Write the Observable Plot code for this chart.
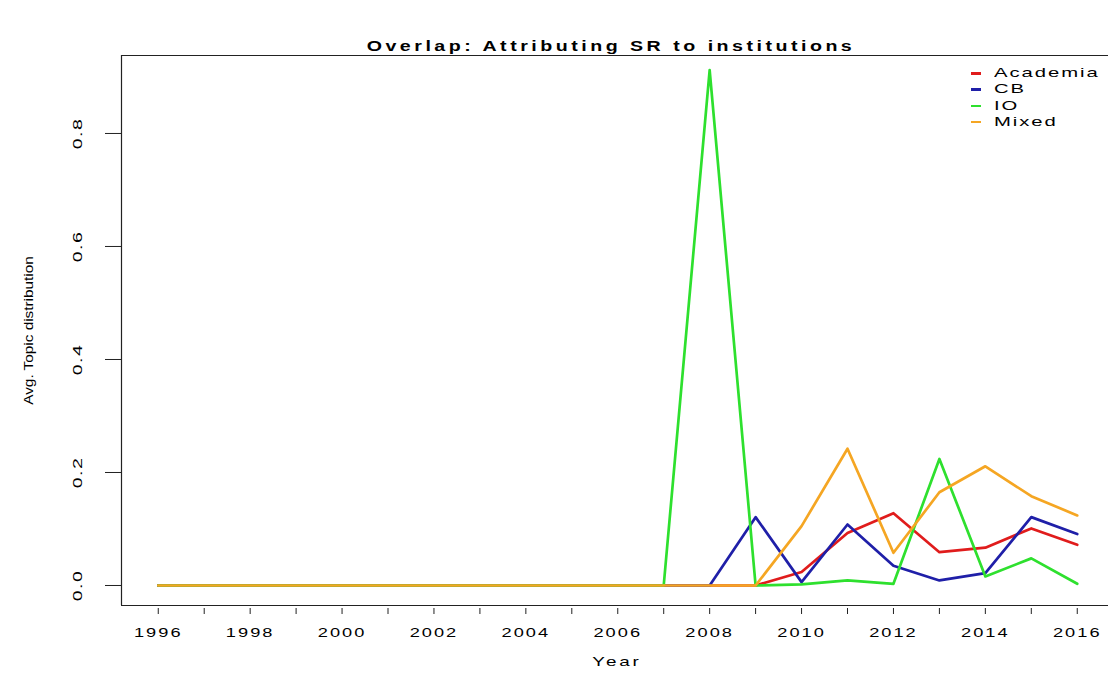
<!DOCTYPE html>
<html><head><meta charset="utf-8">
<script src="https://cdn.jsdelivr.net/npm/d3@7"></script>
<script src="https://cdn.jsdelivr.net/npm/@observablehq/plot@0.6"></script>
<style>
body{margin:0;background:#fff;font-family:"Liberation Sans",Arial,sans-serif;}
#wrap{position:relative;width:1108px;height:673px;overflow:hidden;background:#fff;}
#title{position:absolute;left:611px;top:38px;transform:translate(-50%,0) scaleX(1.4);font-weight:bold;font-size:14px;letter-spacing:2.5px;white-space:nowrap;line-height:16px;color:#000;}
#chart{position:absolute;left:0;top:54px;}
#legend{position:absolute;left:962px;top:65px;font-size:13.5px;color:#000;}
.row{position:relative;height:16.3px;line-height:16.3px;width:146px;}
.sw{position:absolute;left:9px;top:7px;width:10px;height:2.5px;}
.lab{position:absolute;left:32px;top:0;transform-origin:0 50%;transform:scaleX(1.5);letter-spacing:1.3px;white-space:nowrap;}
</style></head>
<body>
<div id="wrap">
  <div id="title">Overlap: Attributing SR to institutions</div>
  <div id="chart"></div>
  <div id="legend"></div>
</div>
<script>
const years = [1996,1997,1998,1999,2000,2001,2002,2003,2004,2005,2006,2007,2008,2009,2010,2011,2012,2013,2014,2015,2016];
const labelYears = [1996,1998,2000,2002,2004,2006,2008,2010,2012,2014,2016];
const yTicks = [0,0.2,0.4,0.6,0.8];
const seriesNames = ["Academia","CB","IO","Mixed"];
const seriesColors = ["#e01c1c","#1f1fa8","#2ee02e","#f5a623"];
const academia = [0,0,0,0,0,0,0,0,0,0,0,0,0,0,0.024,0.093,0.128,0.059,0.067,0.101,0.072];
const cb       = [0,0,0,0,0,0,0,0,0,0,0,0,0,0.121,0.006,0.108,0.035,0.009,0.022,0.121,0.091];
const io       = [0,0,0,0,0,0,0,0,0,0,0,0,0.912,0,0.002,0.009,0.003,0.224,0.016,0.048,0.003];
const mixed    = [0,0,0,0,0,0,0,0,0,0,0,0,0,0,0.105,0.242,0.058,0.165,0.211,0.158,0.124];

const seriesValues = [academia, cb, io, mixed];
const data = [];
seriesNames.forEach((name, k) => years.forEach((yr, i) => data.push({series: name, year: yr, value: seriesValues[k][i]})));

const yMin = -0.0354, yMax = 0.938;
const xMin = 1995.2, xMax = 2016.68;

const plot = Plot.plot({
  width: 1108, height: 619,
  marginLeft: 121, marginRight: 0, marginTop: 1, marginBottom: 68,
  x: {domain: [xMin, xMax], label: null},
  y: {domain: [yMin, yMax], label: null},
  color: {domain: seriesNames, range: seriesColors},
  style: {fontFamily: "Liberation Sans, Arial, sans-serif", fontSize: "13.5px", color: "#000", background: "#fff"},
  marks: [
    Plot.ruleY([yMin, yMax], {stroke: "#222", strokeWidth: 1.2}),
    Plot.ruleX([xMin], {stroke: "#222", strokeWidth: 1.2}),
    Plot.axisX({ticks: years, tickSize: 6, tickFormat: () => "", dy: 3, stroke: "#222"}),
    Plot.axisX({ticks: labelYears, tickSize: 0, tickPadding: 22, tickFormat: "d"}),
    Plot.axisY({ticks: yTicks, tickSize: 16, tickRotate: -90, tickPadding: 24, tickFormat: ".1f", stroke: "#222"}),
    Plot.text(["Avg. Topic distribution"], {frameAnchor: "left", textAnchor: "middle", rotate: -90, dx: -93, fontSize: 13}),
    Plot.text(["Year"], {frameAnchor: "bottom", dy: 60, dx: 2}),
    Plot.line(data, {x: "year", y: "value", z: "series", stroke: "series", strokeWidth: 2.7})
  ]
});
document.getElementById("chart").appendChild(plot);

function stretch(nodes, s, ls) {
  nodes.forEach(t => {
    t.setAttribute("transform", (t.getAttribute("transform") || "") + ` scale(${s},1)`);
    if (ls) t.style.letterSpacing = ls;
  });
}
stretch(plot.querySelectorAll('g[aria-label="x-axis tick label"] text'), 1.35, "1.5px");
stretch(plot.querySelectorAll('g[aria-label="y-axis tick label"] text'), 1.45, "1px");
const plainTexts = Array.from(plot.querySelectorAll('g[aria-label="text"] text'));
stretch(plainTexts.filter(t => t.textContent === "Avg. Topic distribution"), 1.18, null);
stretch(plainTexts.filter(t => t.textContent === "Year"), 1.4, "2px");

const legend = document.getElementById("legend");
seriesNames.forEach((name, k) => {
  const row = document.createElement("div");
  row.className = "row";
  row.innerHTML = `<div class="sw" style="background:${seriesColors[k]}"></div><div class="lab">${name}</div>`;
  legend.appendChild(row);
});
</script>
</body></html>
